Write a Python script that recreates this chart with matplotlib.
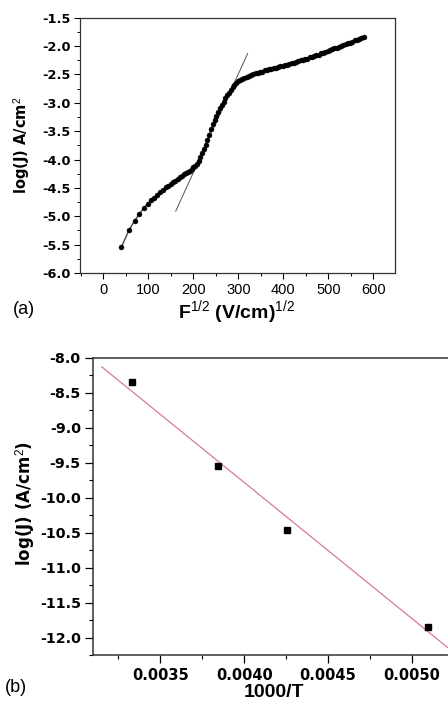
import matplotlib
matplotlib.use('Agg')
import matplotlib.pyplot as plt
from matplotlib.ticker import MultipleLocator

plt.rcParams['font.family'] = ['Liberation Sans', 'DejaVu Sans']
plt.rcParams['axes.unicode_minus'] = False
plt.rcParams['mathtext.fontset'] = 'custom'
plt.rcParams['mathtext.rm'] = 'Liberation Sans'
plt.rcParams['mathtext.it'] = 'Liberation Sans:italic'
plt.rcParams['mathtext.bf'] = 'Liberation Sans:bold'

# ---------------- panel (a) data ----------------
sqrtF = [40, 56.6, 69.3, 80, 89.4, 98, 105.8, 113.1, 120, 126.5, 132.7, 138.6,
         144.2, 149.7, 154.9, 160, 164.9, 169.7, 174.4, 178.9, 183.3, 187.6,
         191.8, 196, 200, 204, 207.8, 211.7, 215.4, 219.1,
         223, 227, 231, 235, 239, 243, 247, 251, 255, 259, 263, 267, 271, 275,
         279, 283, 287, 291, 295, 299, 303, 308, 313, 318, 323, 328, 333, 338,
         343, 348, 353, 358, 363, 368, 373, 378, 383, 388, 393, 398, 403, 408,
         413, 418, 423, 428, 433, 438, 443, 448, 453, 458, 463, 468, 473, 478,
         483, 488, 493, 498, 503, 508, 513, 518, 523, 528, 533, 538, 543, 548,
         553, 558, 563, 568, 573, 578]
logJ_a = [-5.54, -5.25, -5.08, -4.96, -4.86, -4.78, -4.72, -4.67, -4.62, -4.58,
          -4.53, -4.49, -4.46, -4.43, -4.40, -4.37, -4.34, -4.31, -4.29, -4.26,
          -4.24, -4.22, -4.20, -4.17, -4.14, -4.11, -4.07, -4.02, -3.96, -3.89,
          -3.82, -3.74, -3.65, -3.56, -3.47, -3.38, -3.30, -3.23, -3.16, -3.10,
          -3.04, -2.98, -2.92, -2.87, -2.82, -2.77, -2.73, -2.69, -2.65, -2.62,
          -2.60, -2.58, -2.56, -2.54, -2.52, -2.51, -2.49, -2.48, -2.47, -2.46,
          -2.45, -2.43, -2.42, -2.41, -2.40, -2.39, -2.38, -2.37, -2.36, -2.35,
          -2.34, -2.33, -2.32, -2.30, -2.29, -2.28, -2.27, -2.25, -2.24, -2.23,
          -2.22, -2.20, -2.19, -2.18, -2.16, -2.15, -2.13, -2.12, -2.10, -2.09,
          -2.07, -2.06, -2.04, -2.03, -2.01, -2.00, -1.98, -1.97, -1.95, -1.94,
          -1.92, -1.90, -1.89, -1.87, -1.85, -1.84]
fit_a_x = [160.7, 320.7]
fit_a_y = [-4.91, -2.13]
a_xticks = [0, 100, 200, 300, 400, 500, 600]
a_yticks = [-6.0, -5.5, -5.0, -4.5, -4.0, -3.5, -3.0, -2.5, -2.0, -1.5]

# ---------------- panel (b) data ----------------
invT = [0.00333, 0.003843, 0.004253, 0.0051]
logJ_b = [-8.35, -9.55, -10.47, -11.85]
fit_b_x = [0.00315, 0.0053]
fit_b_y = [-8.13, -12.31]
b_xticks = [0.0035, 0.0040, 0.0045, 0.0050]
b_yticks = [-12.0, -11.5, -11.0, -10.5, -10.0, -9.5, -9.0, -8.5, -8.0]

W, H = 448, 702
fig = plt.figure(figsize=(W / 100, H / 100), dpi=100)

# ---------------- panel (a) ----------------
ax1 = fig.add_axes([80 / W, 1 - 273 / H, 315 / W, 255.3 / H])
ax1.plot(fit_a_x, fit_a_y, color='#555555', lw=0.7)
ax1.plot(sqrtF, logJ_a, '-', color='#444444', lw=1.0, marker='o', ms=3.6,
         mfc='black', mec='black', mew=0.3)
ax1.set_xlim(-52, 648)
ax1.set_ylim(-6.0, -1.5)
ax1.set_xticks(a_xticks)
ax1.set_xticklabels([str(v) for v in a_xticks], fontsize=10.5, family='Liberation Sans')
ax1.set_yticks(a_yticks)
ax1.set_yticklabels(['%.1f' % v for v in a_yticks], fontsize=9.3,
                    family='DejaVu Sans', fontweight='bold')
ax1.xaxis.set_minor_locator(MultipleLocator(50))
ax1.yaxis.set_minor_locator(MultipleLocator(0.25))
ax1.tick_params(which='major', direction='out', length=4, width=0.8, pad=2.5)
ax1.tick_params(axis='x', which='major', pad=3)
ax1.tick_params(which='minor', direction='out', length=2.5, width=0.7)
for s in ax1.spines.values():
    s.set_linewidth(0.9)
    s.set_color('#333333')
ax1.set_xlabel('F$^{1/2}$ (V/cm)$^{1/2}$', fontsize=14, fontweight='bold')
ax1.xaxis.set_label_coords((237 - 80) / 315, -(298 - 273) / 255.3)
ax1.xaxis.label.set_va('top')
ax1.set_ylabel('log(J) A/cm$^2$', fontsize=10.5, fontweight='bold', family='DejaVu Sans')
ax1.yaxis.set_label_coords((33 - 80) / 315, 0.5)

fig.text(13 / W, 1 - 309 / H, '(a)', fontsize=13, va='center', ha='left')

# ---------------- panel (b) ----------------
ax2 = fig.add_axes([93.3 / W, 1 - 655 / H, 368.7 / W, 297.3 / H])
ax2.plot(fit_b_x, fit_b_y, color='#d77a9b', lw=0.9)
ax2.plot(invT, logJ_b, 's', color='black', ms=4.2)
ax2.set_xlim(0.0031, 0.0053)
ax2.set_ylim(-12.25, -8.0)
ax2.set_xticks(b_xticks)
ax2.set_xticklabels(['%.4f' % v for v in b_xticks], fontsize=10.5,
                    family='DejaVu Sans', fontweight='bold')
ax2.set_yticks(b_yticks)
ax2.set_yticklabels(['%.1f' % v for v in b_yticks], fontsize=10.3,
                    family='DejaVu Sans', fontweight='bold')
ax2.xaxis.set_minor_locator(MultipleLocator(0.00025))
ax2.yaxis.set_minor_locator(MultipleLocator(0.25))
ax2.tick_params(which='major', direction='out', length=6, width=0.9, pad=3)
ax2.tick_params(which='minor', direction='out', length=3, width=0.8)
ax2.tick_params(axis='x', which='major', pad=3)
for s in ax2.spines.values():
    s.set_linewidth(1.1)
    s.set_color('#333333')
ax2.set_xlabel('1000/T', fontsize=14, fontweight='bold')
ax2.xaxis.set_label_coords((274 - 93.3) / 368.7, (655 - 684) / 297.3)
ax2.xaxis.label.set_va('top')
ax2.set_ylabel('log(J) (A/cm$^2$)', fontsize=12, fontweight='bold', family='DejaVu Sans')
ax2.yaxis.set_label_coords((37 - 93.3) / 368.7, 0.51)

fig.text(5 / W, 1 - 687 / H, '(b)', fontsize=13, va='center', ha='left')

fig.savefig('out.png', dpi=100)
